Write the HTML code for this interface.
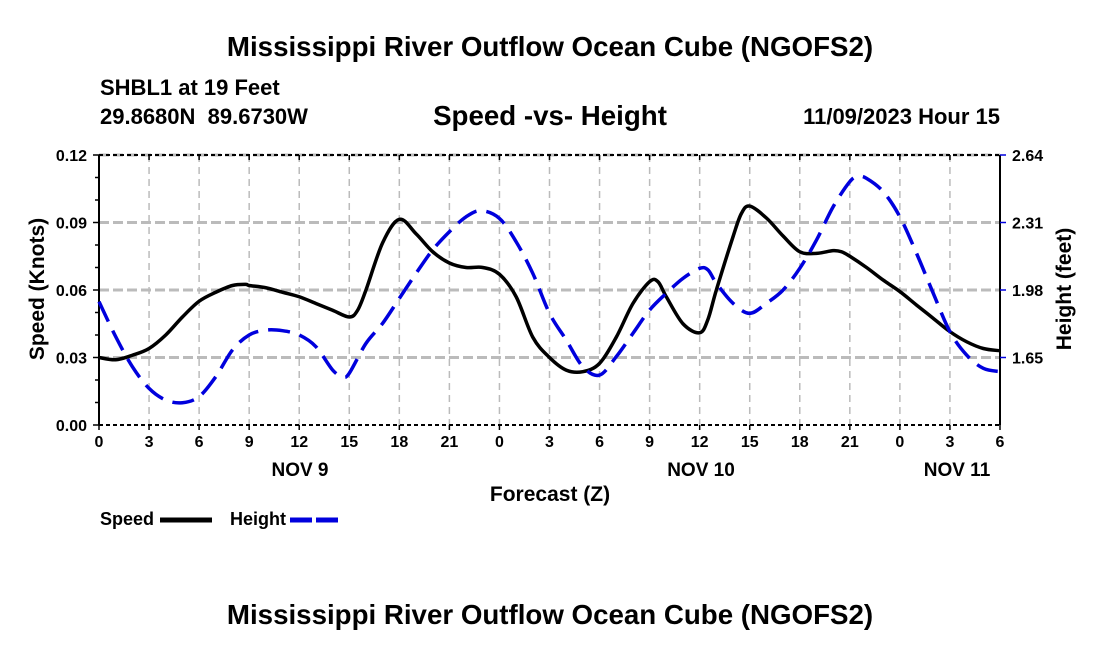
<!DOCTYPE html>
<html><head><meta charset="utf-8"><style>
body{margin:0;background:#fff;}
svg text{font-family:"Liberation Sans",Arial,sans-serif;font-weight:bold;fill:#000;white-space:pre;}
</style></head><body>
<svg width="1100" height="650" viewBox="0 0 1100 650" xmlns="http://www.w3.org/2000/svg">
<text x="550" y="56" font-size="27.7" text-anchor="middle">Mississippi River Outflow Ocean Cube (NGOFS2)</text>
<text x="100" y="95" font-size="22">SHBL1 at 19 Feet</text>
<text x="100" y="124" font-size="22" xml:space="preserve">29.8680N  89.6730W</text>
<text x="550" y="125" font-size="27.7" text-anchor="middle">Speed -vs- Height</text>
<text x="1000" y="124" font-size="22" text-anchor="end">11/09/2023 Hour 15</text>
<g id="grid"></g>
<g id="axes"></g>
<g id="series"></g>
<text x="300" y="476" font-size="19" text-anchor="middle">NOV 9</text>
<text x="701" y="476" font-size="19" text-anchor="middle">NOV 10</text>
<text x="957" y="476" font-size="19" text-anchor="middle">NOV 11</text>
<text x="550" y="501" font-size="21" text-anchor="middle">Forecast (Z)</text>
<text transform="translate(44,289) rotate(-90)" font-size="21" text-anchor="middle">Speed (Knots)</text>
<text transform="translate(1071,289) rotate(-90)" font-size="21" text-anchor="middle">Height (feet)</text>
<g>
<text x="100" y="525" font-size="18">Speed</text>
<line x1="160" y1="520" x2="212" y2="520" stroke="#000" stroke-width="5"/>
</g>
<g>
<text x="230" y="525" font-size="18">Height</text>
<line x1="290" y1="520" x2="342" y2="520" stroke="#0000dd" stroke-width="5" stroke-dasharray="22,4"/>
</g>
<text x="550" y="624" font-size="27.7" text-anchor="middle">Mississippi River Outflow Ocean Cube (NGOFS2)</text>
</svg>
<script>
const xTickLabels=["0","3","6","9","12","15","18","21","0","3","6","9","12","15","18","21","0","3","6"];
const leftTicks=[0,0.03,0.06,0.09,0.12];
const leftTickLabels=["0.00","0.03","0.06","0.09","0.12"];
const rightTicks=[1.65,1.98,2.31,2.64];
const speedHours=[0,1,2,3,4,5,6,7,8,8.8,9,10,11,12,13,14,15,15.5,16,17,18,19,20,21,22,23,24,25,26,27,28,29,30,31,32,33,33.5,34,35,36,36.5,37,38,38.5,39,40,41,42,43,44,44.5,45,46,47,48,49,50,51,52,53,54];
const speedValues=[0.030,0.029,0.031,0.034,0.040,0.048,0.055,0.059,0.062,0.0625,0.062,0.061,0.059,0.057,0.054,0.051,0.048,0.051,0.060,0.081,0.0914,0.085,0.077,0.072,0.070,0.070,0.067,0.057,0.039,0.030,0.0244,0.0237,0.0274,0.039,0.054,0.0637,0.0637,0.057,0.045,0.041,0.047,0.060,0.0837,0.094,0.0973,0.092,0.084,0.077,0.0763,0.0775,0.077,0.075,0.070,0.0644,0.0593,0.0533,0.0474,0.0415,0.037,0.034,0.033];
const heightHours=[0,1,2,3,4,5,6,7,8,9,10,11,12,13,14,14.6,15,16,17,18,19,20,21,22,22.9,24,25,26,27,28,29,30,31,32,33,34,35,36,36.5,37,38,39,40,41,42,43,44,45,45.5,46,47,48,49,50,51,52,53,54];
const heightValues=[1.923,1.752,1.605,1.499,1.442,1.429,1.459,1.556,1.687,1.760,1.784,1.781,1.760,1.703,1.589,1.556,1.573,1.719,1.817,1.939,2.061,2.176,2.265,2.338,2.368,2.330,2.216,2.061,1.866,1.736,1.605,1.564,1.654,1.768,1.882,1.964,2.037,2.086,2.078,2.013,1.915,1.866,1.915,1.980,2.086,2.224,2.387,2.510,2.534,2.526,2.461,2.338,2.159,1.964,1.776,1.662,1.597,1.581];

const NS="http://www.w3.org/2000/svg";
const X0=99,X1=1000,Y0=425,Y1=155;
const xs=h=>X0+(X1-X0)*h/54;
const ys=v=>Y0-(Y0-Y1)*v/0.12;
const yh=v=>Y0-(Y0-Y1)*(v-1.32)/1.32;
function mk(tag,attrs,parent){const e=document.createElementNS(NS,tag);for(const k in attrs)e.setAttribute(k,attrs[k]);parent.appendChild(e);return e;}
const grid=document.getElementById('grid'),axes=document.getElementById('axes'),series=document.getElementById('series');
for(let i=1;i<xTickLabels.length-1;i++){
  const l=mk('line',{x1:xs(i*3),x2:xs(i*3),y1:Y1,y2:Y0,stroke:'#bbb','stroke-width':1.5,'stroke-dasharray':'7,5'},grid);
  
  
}
leftTicks.forEach(v=>{if(v===0)return;
  const l=mk('line',{x1:X0,x2:X1,y1:ys(v),y2:ys(v),stroke:'#bbb','stroke-width':3,'stroke-dasharray':'10,4'},grid);
  
  
});
mk('line',{x1:X0,x2:X1,y1:Y1,y2:Y1,stroke:'#000','stroke-width':2,'stroke-dasharray':'4,3'},axes);
mk('line',{x1:X0,x2:X1,y1:Y0,y2:Y0,stroke:'#000','stroke-width':2,'stroke-dasharray':'4,3'},axes);
mk('line',{x1:X0,x2:X0,y1:Y1,y2:Y0,stroke:'#000','stroke-width':2},axes);
mk('line',{x1:X1,x2:X1,y1:Y1,y2:Y0,stroke:'#000','stroke-width':2},axes);
xTickLabels.forEach((t,i)=>{
  const x=xs(i*3);
  mk('line',{x1:x,x2:x,y1:Y0,y2:Y0+5,stroke:'#000','stroke-width':1.5},axes);
  mk('line',{x1:x,x2:x,y1:Y1,y2:Y1+5,stroke:'#000','stroke-width':1.5},axes);
  const tx=mk('text',{x:x,y:Y0+22,'font-size':16,'text-anchor':'middle'},axes);tx.textContent=t;
  
  
});
for(let v=0;v<=0.1201;v+=0.01){
  mk('line',{x1:X0-(Math.round(v*100)%3===0?6:4),x2:X0,y1:ys(v),y2:ys(v),stroke:'#000','stroke-width':1.5},axes);
}
leftTicks.forEach((v,i)=>{
  const tx=mk('text',{x:X0-12,y:ys(v)+6,'font-size':16,'text-anchor':'end'},axes);tx.textContent=leftTickLabels[i];
  
  
});
rightTicks.forEach(v=>{
  mk('line',{x1:X1,x2:X1+6,y1:yh(v),y2:yh(v),stroke:'#0000dd','stroke-width':1.5},axes);
  const tx=mk('text',{x:X1+12,y:yh(v)+6,'font-size':16},axes);tx.textContent=v.toFixed(2);
  
  
});
function smooth(pts){let d='M'+pts[0][0]+','+pts[0][1];
  for(let i=0;i<pts.length-1;i++){const p0=pts[Math.max(0,i-1)],p1=pts[i],p2=pts[i+1],p3=pts[Math.min(pts.length-1,i+2)];
    d+=' C'+(p1[0]+(p2[0]-p0[0])/6)+','+(p1[1]+(p2[1]-p0[1])/6)+' '+(p2[0]-(p3[0]-p1[0])/6)+','+(p2[1]-(p3[1]-p1[1])/6)+' '+p2[0]+','+p2[1];}
  return d;}
const sp=mk('path',{d:smooth(speedHours.map((h,i)=>[xs(h),ys(speedValues[i])])),fill:'none',stroke:'#000','stroke-width':3.5,'stroke-linejoin':'round'},series);


const hp=mk('path',{d:smooth(heightHours.map((h,i)=>[xs(h),yh(heightValues[i])])),fill:'none',stroke:'#0000dd','stroke-width':3.5,'stroke-dasharray':'22,10'},series);


</script>
</body></html>
